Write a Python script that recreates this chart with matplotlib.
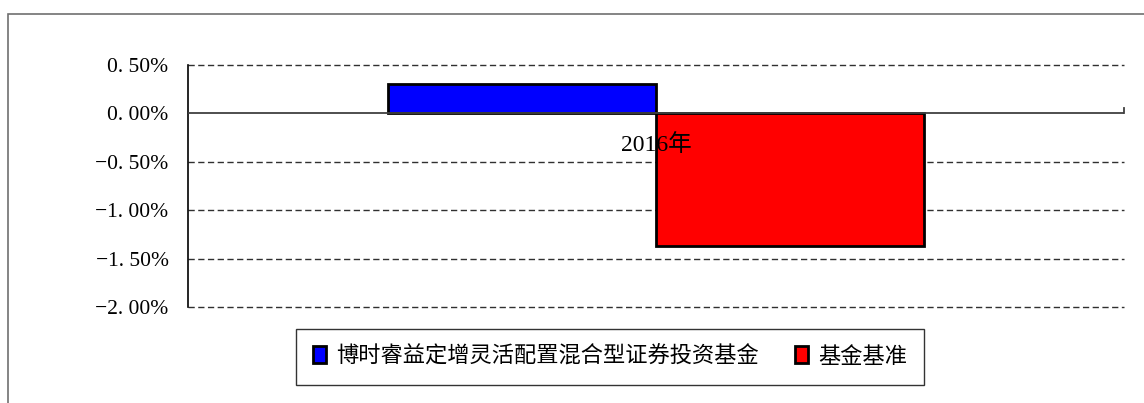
import matplotlib.pyplot as plt
from matplotlib.patches import Rectangle

# 数据
category = ['2016年']
fund_name = '博时睿益定增灵活配置混合型证券投资基金'
bench_name = '基金基准'
fund_values = [0.30]
bench_values = [-1.37]
yticks = [0.5, 0.0, -0.5, -1.0, -1.5, -2.0]
ytick_labels = ['0. 50%', '0. 00%', '−0. 50%', '−1. 00%', '−1. 50%', '−2. 00%']

fonts = ['Liberation Serif', 'Noto Sans CJK SC', 'DejaVu Sans']
plt.rcParams['font.family'] = fonts

fig = plt.figure(figsize=(11.44, 4.03), dpi=100)
# 外边框
fig.patches.append(Rectangle((8 / 1144, -0.05), 1.1, 1 - 14 / 403 + 0.05,
                             transform=fig.transFigure, fill=False,
                             edgecolor='#707070', linewidth=1.2))

ax = fig.add_axes([188 / 1144, 1 - 307 / 403, 936 / 1144, 242 / 403])

width = 0.286
x = range(len(category))
ax.bar([i - width / 2 for i in x], fund_values, width, color='#0000ff',
       edgecolor='black', linewidth=2, label=fund_name, zorder=3)
ax.bar([i + width / 2 for i in x], bench_values, width, color='#ff0000',
       edgecolor='black', linewidth=2, label=bench_name, zorder=3)

ax.set_xlim(-0.5, 0.5)
ax.set_ylim(-2.0, 0.5)
ax.set_yticks(yticks)
ax.set_yticklabels(ytick_labels, fontsize=15.5)
ax.tick_params(axis='y', length=0, pad=14)
ax.set_xticks([])

for y in yticks:
    if y != 0:
        ax.axhline(y, color='#303030', linestyle=(0, (4.5, 2.5)), linewidth=1,
                   zorder=1, clip_on=False)
ax.axhline(0, xmin=0, xmax=1, color='#404040', linewidth=1.3, zorder=4)
ax.plot([0.5, 0.5], [0, 0.06], color='#404040', linewidth=1.3, clip_on=False)

for s in ['top', 'right', 'bottom']:
    ax.spines[s].set_visible(False)
ax.spines['left'].set_linewidth(1.2)

ax.text(0, -0.33, category[0], ha='center', va='center', fontsize=17, zorder=5)

leg = fig.legend(loc='center', bbox_to_anchor=(610 / 1144, 1 - 357 / 403),
                 ncol=2, frameon=True, fancybox=False, fontsize=16,
                 handlelength=0.6, handleheight=0.8, handletextpad=0.45,
                 columnspacing=1.6, borderpad=0.78, borderaxespad=0)
leg.get_frame().set_edgecolor('black')
leg.get_frame().set_linewidth(1)
for h in leg.legend_handles:
    h.set_linewidth(2)

plt.savefig('out.png', dpi=100)
